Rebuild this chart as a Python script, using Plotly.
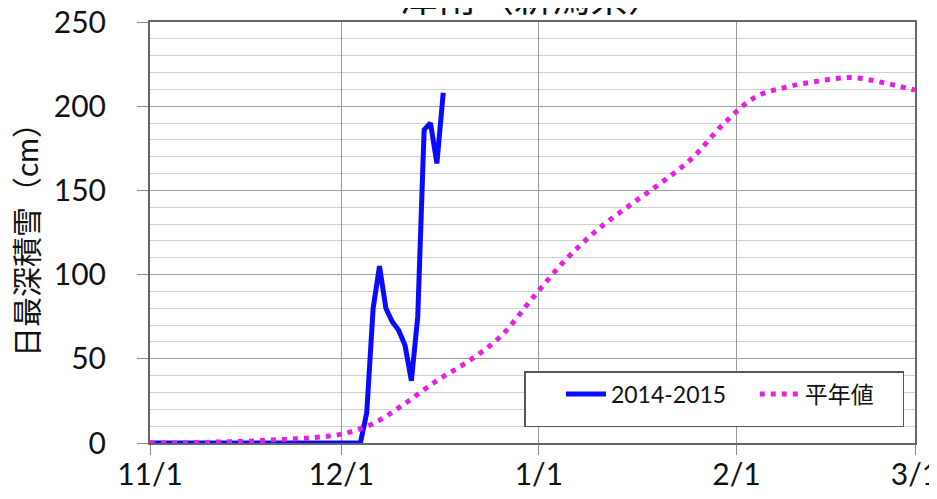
import plotly.graph_objects as go
import pandas as pd

# 2014-2015 daily max snow depth (cm), 11/1 .. 12/17
obs_dates = pd.date_range("2014-11-01", "2014-12-17", freq="D")
obs_depth = [0, 0, 0, 0, 0, 0, 0, 0, 0, 0,
             0, 0, 0, 0, 0, 0, 0, 0, 0, 0,
             0, 0, 0, 0, 0, 0, 0, 0, 0, 0,
             0, 0, 0, 0,
             18, 80, 105, 80, 72, 67, 58, 37, 75, 186, 190, 166, 208]

# normal values, read every 5 days from 11/1
norm_dates = pd.date_range("2014-11-01", "2015-03-01", freq="5D")
norm_depth = [0, 0, 0.5, 1, 2, 3, 5.3, 11.5, 23.5, 37, 48.7, 63.3, 86,
              108, 126, 140.5, 154, 169, 189.6, 205.5, 211.5, 215, 217,
              214, 209.5]

tick_dates = ["2014-11-01", "2014-12-01", "2015-01-01", "2015-02-01", "2015-03-01"]
tick_text = ["11/1", "12/1", "1/1", "2/1", "3/1"]

font = "Lato, 'Noto Sans CJK JP', sans-serif"
pad = "&nbsp;" * 4

fig = go.Figure()
fig.add_trace(go.Scatter(x=obs_dates, y=obs_depth, mode="lines", name="2014-2015" + pad,
                         line=dict(color="#0a0aff", width=5), cliponaxis=False))
fig.add_trace(go.Scatter(x=norm_dates, y=norm_depth, mode="lines", name="平年値" + pad,
                         line=dict(color="#e61ee6", width=5, dash="5px,6px", shape="spline"),
                         cliponaxis=False))

# title sits partly above the page edge, as in the source image
fig.add_annotation(text="津南（新潟県）", xref="paper", yref="paper", x=0.5, y=1.0,
                   xanchor="center", yanchor="bottom", yshift=1, showarrow=False,
                   font=dict(size=38, color="#111", family=font))

# page body adds an 8px offset, so the figure is a bit smaller than the window
fig.update_layout(
    width=921, height=483,
    margin=dict(l=142, r=14, t=14, b=48),
    paper_bgcolor="white", plot_bgcolor="white",
    font=dict(family=font, color="#111"),
    showlegend=True,
    legend=dict(orientation="h", x=0.489, y=0.171, xanchor="left", yanchor="top",
                bgcolor="white", bordercolor="#555", borderwidth=1.5,
                font=dict(size=23, family=font), itemwidth=40,
                title=dict(text="&nbsp;&nbsp;&nbsp;", side="left", font=dict(size=33))),
    xaxis=dict(range=["2014-11-01", "2015-03-01"], tickvals=tick_dates, ticktext=tick_text,
               showgrid=True, gridcolor="#999", gridwidth=1,
               ticks="outside", ticklen=10, tickcolor="#888",
               showline=True, linecolor="#666", linewidth=2, mirror=True,
               tickfont=dict(size=30), ticklabelstandoff=-6, ticklabeloverflow="allow",
               layer="below traces", zeroline=False, automargin=False),
    yaxis=dict(range=[0, 250], dtick=50, showgrid=True, gridcolor="#a0a0a0",
               minor=dict(dtick=10, showgrid=True, gridcolor="#cfcfcf"),
               ticks="outside", ticklen=11, tickcolor="#888",
               showline=True, linecolor="#666", linewidth=2, mirror=True,
               tickfont=dict(size=30), ticklabelstandoff=25, ticklabeloverflow="allow",
               layer="below traces", zeroline=False, automargin=False,
               title=dict(text="日最深積雪（cm）", font=dict(size=30), standoff=12)),
)

fig.write_html("out.html")
